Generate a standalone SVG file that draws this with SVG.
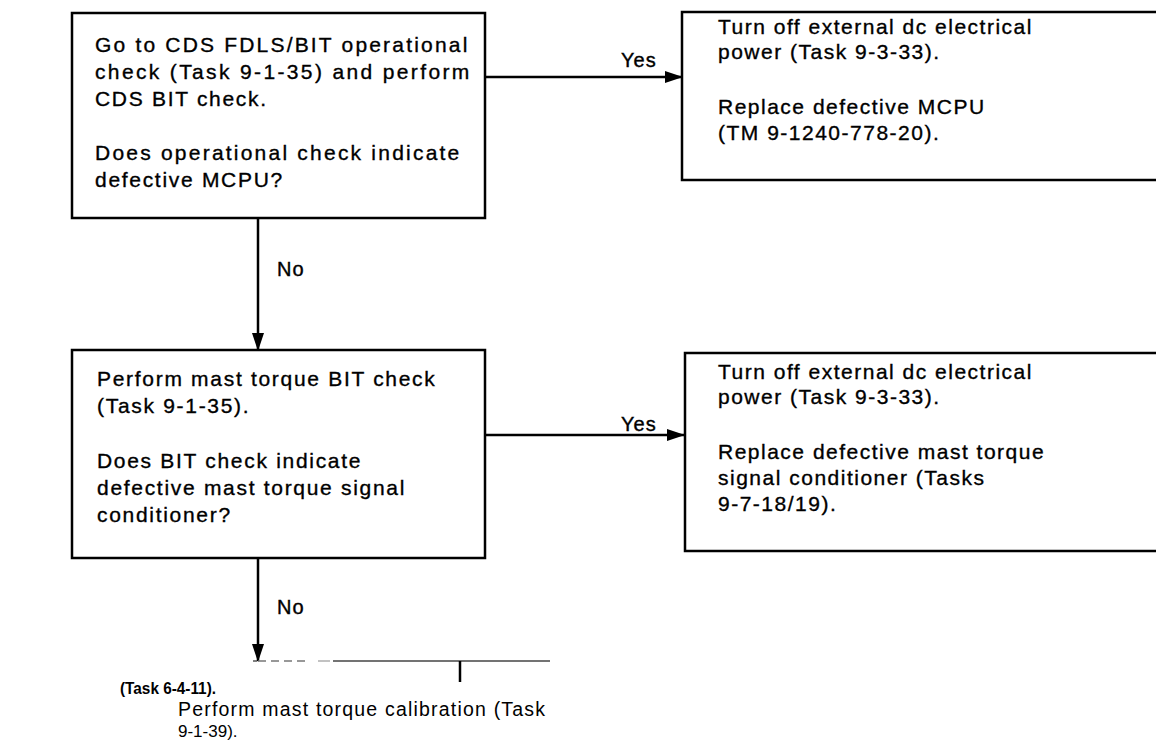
<svg xmlns="http://www.w3.org/2000/svg" width="1156" height="748" viewBox="0 0 1156 748">
<style>
.box{fill:#fff;stroke:#000;stroke-width:2.5}
.t{font-family:"Liberation Sans",Arial,sans-serif;font-size:21px;letter-spacing:1.7px;fill:#000;stroke:#000;stroke-width:0.35}
.t2{font-family:"Liberation Sans",Arial,sans-serif;font-size:21px;letter-spacing:1.5px;fill:#000;stroke:#000;stroke-width:0.35}
.lbl{font-family:"Liberation Sans",Arial,sans-serif;font-size:20px;letter-spacing:1px;fill:#000;stroke:#000;stroke-width:0.4}
.c{stroke:#000;stroke-width:2.5;fill:none}
.b{font-family:"Liberation Sans",Arial,sans-serif;font-size:17px;font-weight:bold;fill:#000}
.a{font-family:"Liberation Sans",Arial,sans-serif;font-size:19.5px;fill:#000}
</style>
<defs>
<marker id="ah" markerWidth="18" markerHeight="12" refX="17" refY="6" orient="auto" markerUnits="userSpaceOnUse">
<path d="M0,0 L18,6 L0,12 Z" fill="#000"/>
</marker>
</defs>
<rect width="1156" height="748" fill="#fff"/>
<g id="connectors">
<line class="c" x1="485" y1="77" x2="682" y2="77" marker-end="url(#ah)"/>
<line class="c" x1="258" y1="218" x2="258" y2="350" marker-end="url(#ah)"/>
<line class="c" x1="485" y1="435" x2="684" y2="435" marker-end="url(#ah)"/>
<line class="c" x1="258" y1="558" x2="258" y2="661" marker-end="url(#ah)"/>
<text class="lbl" x="621" y="67">Yes</text>
<text class="lbl" x="277" y="276">No</text>
<text class="lbl" x="621" y="431">Yes</text>
<text class="lbl" x="277" y="614">No</text>
</g>
<g id="n1">
<rect class="box" x="72" y="13" width="413" height="205"/>
<text class="t" x="95" y="52" textLength="374" lengthAdjust="spacing">Go to CDS FDLS/BIT operational</text>
<text class="t" x="95" y="79" textLength="376" lengthAdjust="spacing">check (Task 9-1-35) and perform</text>
<text class="t" x="95" y="106">CDS BIT check.</text>
<text class="t" x="95" y="160" textLength="366" lengthAdjust="spacing">Does operational check indicate</text>
<text class="t" x="95" y="187">defective MCPU?</text>
</g>
<g id="n2">
<rect class="box" x="682" y="12" width="490" height="168"/>
<text class="t2" x="718" y="34">Turn off external dc electrical</text>
<text class="t2" x="718" y="59">power (Task 9-3-33).</text>
<text class="t2" x="718" y="114">Replace defective MCPU</text>
<text class="t2" x="718" y="140">(TM 9-1240-778-20).</text>
</g>
<g id="n3">
<rect class="box" x="72" y="350" width="413" height="208"/>
<text class="t" x="97" y="386">Perform mast torque BIT check</text>
<text class="t" x="97" y="413">(Task 9-1-35).</text>
<text class="t" x="97" y="468">Does BIT check indicate</text>
<text class="t" x="97" y="495">defective mast torque signal</text>
<text class="t" x="97" y="522">conditioner?</text>
</g>
<g id="n4">
<rect class="box" x="685" y="353" width="490" height="198"/>
<text class="t2" x="718" y="379">Turn off external dc electrical</text>
<text class="t2" x="718" y="404">power (Task 9-3-33).</text>
<text class="t2" x="718" y="459">Replace defective mast torque</text>
<text class="t2" x="718" y="485">signal conditioner (Tasks</text>
<text class="t2" x="718" y="511">9-7-18/19).</text>
</g>
<g id="n5">
<line x1="253" y1="661" x2="257" y2="661" stroke="#555" stroke-width="1.5"/>
<line x1="258" y1="661" x2="310" y2="661" stroke="#777" stroke-width="1.5" stroke-dasharray="8,5"/>
<line x1="318" y1="661" x2="330" y2="661" stroke="#999" stroke-width="1.2"/>
<line x1="333" y1="661" x2="550" y2="661" stroke="#444" stroke-width="1.5"/>
<line x1="460" y1="661" x2="460" y2="682" stroke="#000" stroke-width="2.5"/>
<text class="b" x="120" y="694" textLength="96" lengthAdjust="spacingAndGlyphs">(Task 6-4-11).</text>
<text class="a" x="178" y="716" textLength="367" lengthAdjust="spacing">Perform mast torque calibration (Task</text>
<text class="a" x="178" y="737" style="font-size:17px">9-1-39).</text>
</g>
</svg>
